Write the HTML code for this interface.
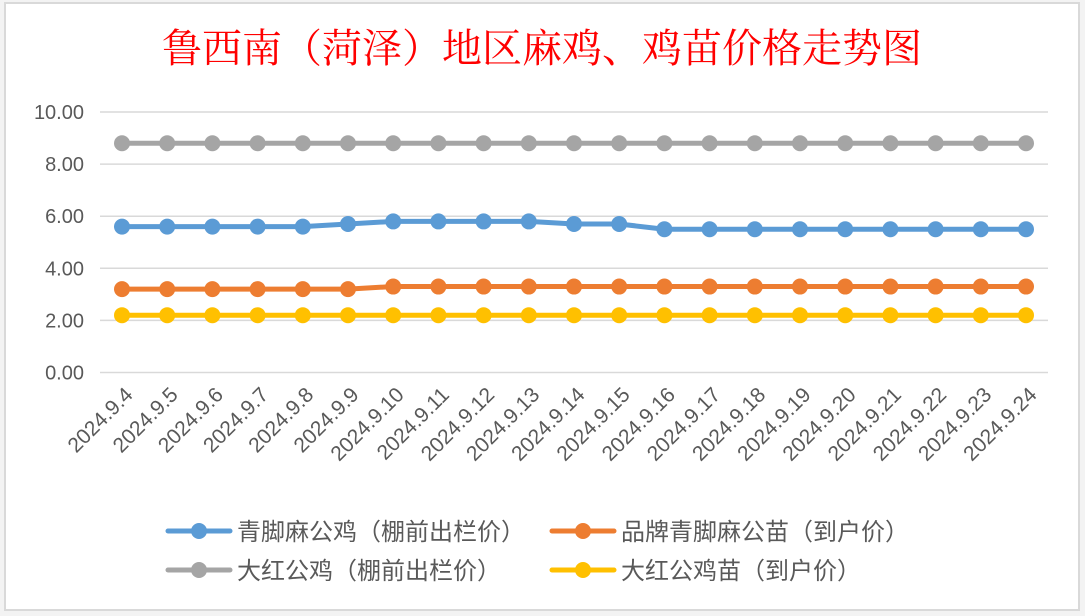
<!DOCTYPE html>
<html><head><meta charset="utf-8"><style>
body{margin:0;background:#fff;}
svg{display:block;font-family:"Liberation Sans","Noto Sans CJK SC",sans-serif;}
</style></head><body>
<svg width="1085" height="616">
<rect x="0" y="0" width="1085" height="616" fill="#f3f3f3"/>
<rect x="5" y="3" width="1074" height="607" fill="#fff" stroke="#d9d9d9" stroke-width="2"/>
<text x="542" y="62" text-anchor="middle" font-family="'Liberation Serif','Noto Serif CJK SC',serif" font-size="40" fill="#ff0000">鲁西南（菏泽）地区麻鸡、鸡苗价格走势图</text>
<g id="grid"></g><g id="ylab"></g><g id="xlab"></g><g id="series"></g>
<g>
<g><line x1="168" y1="531" x2="230" y2="531" stroke="#5b9bd5" stroke-width="5" stroke-linecap="round"/><circle cx="199" cy="531" r="8" fill="#5b9bd5"/><text x="237" y="540" font-size="24" fill="#595959">青脚麻公鸡（棚前出栏价）</text></g>
<g><line x1="552" y1="531" x2="614" y2="531" stroke="#ed7d31" stroke-width="5" stroke-linecap="round"/><circle cx="583" cy="531" r="8" fill="#ed7d31"/><text x="621" y="540" font-size="24" fill="#595959">品牌青脚麻公苗（到户价）</text></g>
<g><line x1="168" y1="570" x2="230" y2="570" stroke="#a5a5a5" stroke-width="5" stroke-linecap="round"/><circle cx="199" cy="570" r="8" fill="#a5a5a5"/><text x="237" y="579" font-size="24" fill="#595959">大红公鸡（棚前出栏价）</text></g>
<g><line x1="552" y1="570" x2="614" y2="570" stroke="#ffc000" stroke-width="5" stroke-linecap="round"/><circle cx="583" cy="570" r="8" fill="#ffc000"/><text x="621" y="579" font-size="24" fill="#595959">大红公鸡苗（到户价）</text></g>
</g>
</svg>
<script>
const categories=["2024.9.4","2024.9.5","2024.9.6","2024.9.7","2024.9.8","2024.9.9","2024.9.10","2024.9.11","2024.9.12","2024.9.13","2024.9.14","2024.9.15","2024.9.16","2024.9.17","2024.9.18","2024.9.19","2024.9.20","2024.9.21","2024.9.22","2024.9.23","2024.9.24"];
const qingjiao=[5.6,5.6,5.6,5.6,5.6,5.7,5.8,5.8,5.8,5.8,5.7,5.7,5.5,5.5,5.5,5.5,5.5,5.5,5.5,5.5,5.5];
const brand=[3.2,3.2,3.2,3.2,3.2,3.2,3.3,3.3,3.3,3.3,3.3,3.3,3.3,3.3,3.3,3.3,3.3,3.3,3.3,3.3,3.3];
const dahong=[8.8,8.8,8.8,8.8,8.8,8.8,8.8,8.8,8.8,8.8,8.8,8.8,8.8,8.8,8.8,8.8,8.8,8.8,8.8,8.8,8.8];
const dahongChick=[2.2,2.2,2.2,2.2,2.2,2.2,2.2,2.2,2.2,2.2,2.2,2.2,2.2,2.2,2.2,2.2,2.2,2.2,2.2,2.2,2.2];
const yTicks=[0,2,4,6,8,10];
const yTickLabels=["0.00","2.00","4.00","6.00","8.00","10.00"];
const NS="http://www.w3.org/2000/svg";
const x0=122,x1=1026,yBase=372.5,yTop=112,yMax=10;
const xs=i=>x0+(x1-x0)*i/(categories.length-1);
const ys=v=>yBase-(yBase-yTop)*v/yMax;
function mk(tag,attrs,parent){const e=document.createElementNS(NS,tag);for(const k in attrs)e.setAttribute(k,attrs[k]);parent.appendChild(e);return e;}
const grid=document.getElementById('grid'),ylab=document.getElementById('ylab'),xlab=document.getElementById('xlab'),ser=document.getElementById('series');
yTicks.forEach((t,i)=>{
 const l=mk('line',{x1:100,x2:1048,y1:ys(t),y2:ys(t),stroke:'#d9d9d9','stroke-width':1.5},grid);
 
 
 const tx=mk('text',{x:84,y:ys(t)+7,'text-anchor':'end','font-size':20,fill:'#595959'},ylab);
 tx.textContent=yTickLabels[i];
 
 
});
categories.forEach((c,i)=>{
 const x=xs(i)+12,y=396;
 const tx=mk('text',{x:x,y:y,'text-anchor':'end','font-size':21,fill:'#595959',transform:`rotate(-45 ${x} ${y})`},xlab);
 tx.textContent=c;
 
 
});
[[dahong,'#a5a5a5','series-dahong'],[qingjiao,'#5b9bd5','series-qingjiao'],[brand,'#ed7d31','series-brand'],[dahongChick,'#ffc000','series-dahong-chick']].forEach(([d,col,name])=>{
 const g=mk('g',{},ser);
 
 
 const p=mk('polyline',{points:d.map((v,i)=>xs(i)+','+ys(v)).join(' '),fill:'none',stroke:col,'stroke-width':5,'stroke-linejoin':'round'},g);
 
 
 d.forEach((v,i)=>{
  const c=mk('circle',{cx:xs(i),cy:ys(v),r:8,fill:col},g);
  
  
 });
});
</script>
</body></html>
